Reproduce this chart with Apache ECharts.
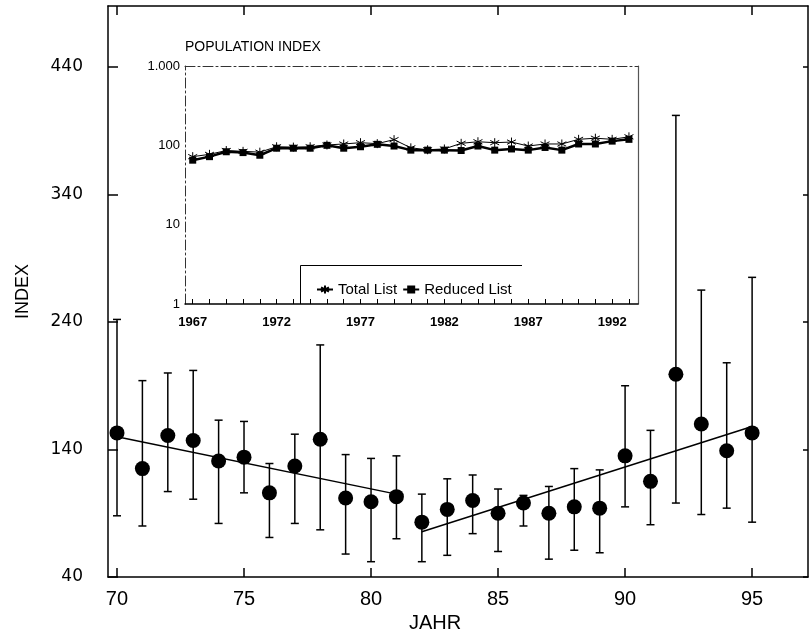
<!DOCTYPE html>
<html>
<head>
<meta charset="utf-8">
<script src="https://cdn.jsdelivr.net/npm/echarts@6/dist/echarts.min.js"></script>
<style>html,body{margin:0;padding:0;background:#fff}#c{width:809px;height:633px}</style>
</head>
<body>
<div id="c"></div>
<script>
// ---- Main chart data ----
const years = [70,71,72,73,74,75,76,77,78,79,80,81,82,83,84,85,86,87,88,89,90,91,92,93,94,95];
const indexValues = [153,125,151,147,131,134,106,127,148,102,99,103,83,93,100,90,98,90,95,94,135,115,199,160,139,153];
const upperValues = [242,194,200,202,163,162,129,152,222,136,133,135,105,117,120,109,104,111,125,124,190,155,402,265,208,275];
const lowerValues = [88,80,107,101,82,106,71,82,77,58,52,70,52,57,74,60,80,54,61,59,95,81,98,89,94,83];
const trend1X = [70,81];
const trend1Y = [150,105];
const trend2X = [82,95];
const trend2Y = [75.5,158];
const mainXTicks = [70,75,80,85,90,95];
const mainYTicks = [40,140,240,340,440];

// ---- Inset data ----
const popYears = [1967,1968,1969,1970,1971,1972,1973,1974,1975,1976,1977,1978,1979,1980,1981,1982,1983,1984,1985,1986,1987,1988,1989,1990,1991,1992,1993];
const reducedList = [65,72,83,81,75,92,92,92,100,92,96,103,98,87,87,87,86,98,87,90,87,94,87,104,104,113,119];
const totalList = [72,77,86,84,82,96,95,96,101,104,108,105,118,93,88,90,106,111,108,110,98,104,104,119,123,119,128];
const insetXLabels = [1967,1972,1977,1982,1987,1992];
const insetYTicks = [1,10,100,1000];

const chart = echarts.init(document.getElementById('c'), null, {renderer:'canvas'});

const scatterData = years.map((y,i)=>[y, indexValues[i]]);
const errData = years.map((y,i)=>[y, lowerValues[i], upperValues[i]]);
const t1 = trend1X.map((x,i)=>[x, trend1Y[i]]);
const t2 = trend2X.map((x,i)=>[x, trend2Y[i]]);
const redData = popYears.map((y,i)=>[y, reducedList[i]]);
const totData = popYears.map((y,i)=>[y, totalList[i]]);

const starPath = 'path://M0,-6L0,6M-5.2,-3L5.2,3M-5.2,3L5.2,-3';
const mainFont = 'Liberation Sans, Arial, sans-serif';

const option = {
  animation: false,
  backgroundColor: '#fff',
  title: {
    text: 'POPULATION INDEX', left: 185, top: 40, padding: 0,
    textStyle: {fontFamily: mainFont, fontSize: 14, fontWeight: 'normal', color: '#000'}
  },
  legend: {
    left: 311, top: 277, itemGap: 5, itemWidth: 16, itemHeight: 10,
    data: ['Total List','Reduced List'],
    textStyle: {fontFamily: mainFont, fontSize: 15, color: '#000'}
  },
  grid: [
    {left: 108, top: 6, width: 700, height: 571, containLabel: false, outerBoundsMode: 'none'},
    {left: 185, top: 66, width: 453, height: 238, containLabel: false, outerBoundsMode: 'none'}
  ],
  xAxis: [
    {
      type: 'value', gridIndex: 0, min: 69.646, max: 97.2, position: 'bottom',
      name: 'JAHR', nameLocation: 'middle', nameGap: 36,
      nameTextStyle: {fontFamily: mainFont, fontSize: 20, color: '#000', padding: [0, 46, 0, 0]},
      axisLine: {show: true, onZero: false, lineStyle: {color: '#000', width: 1.5}},
      axisTick: {show: true, inside: true, length: 9, customValues: mainXTicks, lineStyle: {color: '#000', width: 1.5}},
      axisLabel: {customValues: mainXTicks, margin: 12, fontFamily: mainFont, fontSize: 20, color: '#000'},
      splitLine: {show: false}
    },
    {
      type: 'value', gridIndex: 0, min: 69.646, max: 97.2, position: 'top',
      axisLine: {show: true, onZero: false, lineStyle: {color: '#000', width: 1.5}},
      axisTick: {show: true, inside: true, length: 9, customValues: mainXTicks, lineStyle: {color: '#000', width: 1.5}},
      axisLabel: {show: false},
      splitLine: {show: false}
    },
    {
      type: 'value', gridIndex: 1, min: 1966.54, max: 1993.54, position: 'bottom',
      axisLine: {show: true, onZero: false, lineStyle: {color: '#000', width: 1.5}},
      axisTick: {show: true, inside: true, length: 5, customValues: popYears, lineStyle: {color: '#000', width: 1}},
      axisLabel: {customValues: insetXLabels, margin: 12, fontFamily: mainFont, fontSize: 13, fontWeight: 'bold', color: '#000',
        formatter: v => String(Math.round(v))},
      splitLine: {show: false}
    },
    {
      type: 'value', gridIndex: 1, min: 1966.54, max: 1993.54, position: 'top',
      axisLine: {show: true, onZero: false, lineStyle: {color: '#333', width: 1, type: [10,3,2,3]}},
      axisTick: {show: false}, axisLabel: {show: false}, splitLine: {show: false}
    }
  ],
  yAxis: [
    {
      type: 'value', gridIndex: 0, min: 40, max: 487.8, position: 'left',
      name: 'INDEX', nameLocation: 'middle', nameGap: 76, nameRotate: 90,
      nameTextStyle: {fontFamily: mainFont, fontSize: 18, color: '#000'},
      axisLine: {show: true, onZero: false, lineStyle: {color: '#000', width: 1.5}},
      axisTick: {show: true, inside: true, length: 10, customValues: mainYTicks, lineStyle: {color: '#000', width: 1.5}},
      axisLabel: {customValues: mainYTicks, margin: 25, fontFamily: 'DejaVu Sans, sans-serif', fontSize: 17, color: '#000'},
      splitLine: {show: false}
    },
    {
      type: 'value', gridIndex: 0, min: 40, max: 487.8, position: 'right',
      axisLine: {show: true, onZero: false, lineStyle: {color: '#000', width: 1.5}},
      axisTick: {show: true, inside: true, length: 5, customValues: mainYTicks, lineStyle: {color: '#000', width: 1.5}},
      axisLabel: {show: false}, splitLine: {show: false}
    },
    {
      type: 'log', logBase: 10, gridIndex: 1, min: 1, max: 1000, position: 'left',
      axisLine: {show: true, onZero: false, lineStyle: {color: '#333', width: 1, type: [10,3,2,3]}},
      axisTick: {show: false},
      axisLabel: {
        customValues: insetYTicks, margin: 5, fontFamily: mainFont, fontSize: 13, color: '#000',
        formatter: v => (v >= 1000 ? '1.000' : String(Math.round(v)))
      },
      splitLine: {show: false}
    },
    {
      type: 'log', logBase: 10, gridIndex: 1, min: 1, max: 1000, position: 'right',
      axisLine: {show: true, onZero: false, lineStyle: {color: '#555', width: 1.2}},
      axisTick: {show: false}, axisLabel: {show: false}, splitLine: {show: false}
    }
  ],
  graphic: [
    {
      type: 'polyline', z: 10,
      shape: {points: [[300.5, 304], [300.5, 265.5], [522, 265.5]]},
      style: {stroke: '#000', lineWidth: 1, fill: null}
    }
  ],
  series: [
    {
      type: 'custom', name: 'errors', xAxisIndex: 0, yAxisIndex: 0, z: 2,
      data: errData,
      encode: {x: 0, y: [1, 2]},
      renderItem: function (params, api) {
        const x = api.value(0), lo = api.value(1), hi = api.value(2);
        const pL = api.coord([x, lo]);
        const pH = api.coord([x, hi]);
        const w = 4;
        const st = {stroke: '#000', lineWidth: 1.5};
        return {type: 'group', children: [
          {type: 'line', shape: {x1: pL[0], y1: pL[1], x2: pH[0], y2: pH[1]}, style: st},
          {type: 'line', shape: {x1: pL[0]-w, y1: pL[1], x2: pL[0]+w, y2: pL[1]}, style: st},
          {type: 'line', shape: {x1: pH[0]-w, y1: pH[1], x2: pH[0]+w, y2: pH[1]}, style: st}
        ]};
      }
    },
    {
      type: 'line', name: 'trend1', xAxisIndex: 0, yAxisIndex: 0, data: t1, symbol: 'none', z: 3,
      lineStyle: {color: '#000', width: 1.5}
    },
    {
      type: 'line', name: 'trend2', xAxisIndex: 0, yAxisIndex: 0, data: t2, symbol: 'none', z: 3,
      lineStyle: {color: '#000', width: 1.5}
    },
    {
      type: 'scatter', name: 'index', xAxisIndex: 0, yAxisIndex: 0, data: scatterData, z: 4,
      symbol: 'circle', symbolSize: 15, itemStyle: {color: '#000', opacity: 1}
    },
    {
      type: 'line', name: 'Total List', xAxisIndex: 2, yAxisIndex: 2, data: totData, z: 5,
      symbol: starPath, symbolSize: 9,
      itemStyle: {color: 'rgba(0,0,0,0)', borderColor: '#000', borderWidth: 1},
      lineStyle: {color: '#000', width: 1}
    },
    {
      type: 'line', name: 'Reduced List', xAxisIndex: 2, yAxisIndex: 2, data: redData, z: 6,
      symbol: 'rect', symbolSize: 7,
      itemStyle: {color: '#000'},
      lineStyle: {color: '#000', width: 2.5}
    }
  ]
};
chart.setOption(option);
</script>
</body>
</html>
